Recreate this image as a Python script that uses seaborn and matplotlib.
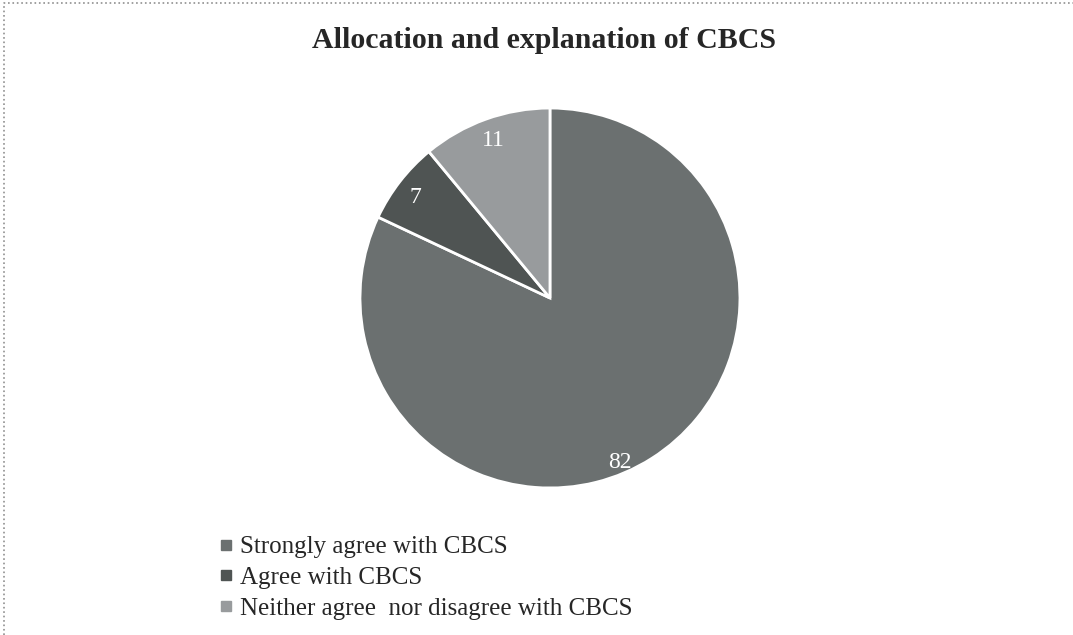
import numpy as np
import seaborn as sns
import matplotlib.pyplot as plt
from matplotlib.lines import Line2D

# chart data
categories = ['Strongly agree with CBCS', 'Agree with CBCS',
              'Neither agree  nor disagree with CBCS']
values = [82, 7, 11]
colors = ['#6b7070', '#4f5453', '#989b9d']
title = 'Allocation and explanation of CBCS'

sns.set_theme(style='white')
plt.rcParams['font.family'] = ['Liberation Serif', 'DejaVu Serif']

fig = plt.figure(figsize=(10.73, 6.35), dpi=100)
ax = fig.add_axes([0.3355, 0.2315, 0.3541, 0.5984])

wedges, texts = ax.pie(values, colors=colors, startangle=90, counterclock=False,
                       labels=[str(v) for v in values], labeldistance=0.86,
                       wedgeprops=dict(edgecolor='white', linewidth=2),
                       textprops=dict(color='white', fontsize=17))
ax.set_aspect('equal')
ax.set_xlim(-1, 1)
ax.set_ylim(-1, 1)

# the big slice label sits near the rim like Excel's "best fit"
ang = np.deg2rad(-70.5)
texts[0].set_position((0.92 * np.cos(ang), 0.92 * np.sin(ang)))
ang = np.deg2rad(106)
texts[2].set_position((0.86 * np.cos(ang), 0.86 * np.sin(ang)))

fig.text(544 / 1073, 1 - 41 / 635, title, ha='center', va='center',
         fontsize=21.5, fontweight='bold')

handles = [Line2D([0], [0], marker='s', linestyle='', markersize=6.5,
                  markerfacecolor=c, markeredgecolor=c) for c in colors]
fig.legend(handles, categories, loc='upper left',
           bbox_to_anchor=(210 / 1073, 1 - 526 / 635), frameon=False,
           fontsize=18, handlelength=0.5, handletextpad=0.3,
           labelspacing=0.32, borderaxespad=0)

# dotted page frame (left and top)
fig.add_artist(Line2D([0.004, 0.004, 1.0], [0.0, 0.995, 0.995],
                      transform=fig.transFigure, color='#909090',
                      linestyle=':', linewidth=1.2))

plt.savefig('out.png', dpi=100)
